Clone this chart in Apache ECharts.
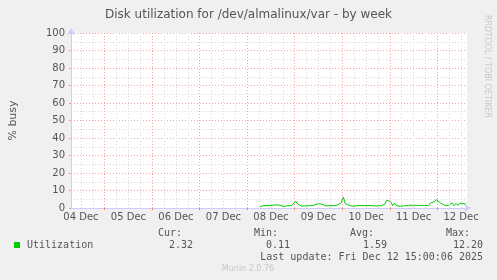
<!DOCTYPE html>
<html>
<head>
<meta charset="utf-8">
<script src="https://cdn.jsdelivr.net/npm/echarts@6/dist/echarts.min.js"></script>
<style>
html,body{margin:0;padding:0;background:#f0f0f0;}
#c{width:497px;height:280px;}
</style>
</head>
<body>
<div id="c"></div>
<script>
// x values are hours since 04 Dec 00:00
const dayLabels = ['04 Dec','05 Dec','06 Dec','07 Dec','08 Dec','09 Dec','10 Dec','11 Dec','12 Dec'];
const labelHours = [12,36,60,84,108,132,156,180,204];
const majorHours = [24,48,72,96,120,144,168,192];
const minorHours = [12,18,30,36,42,54,60,66,78,84,90,102,108,114,126,132,138,150,156,162,174,180,186,198,204];
const yTicks = [0,10,20,30,40,50,60,70,80,90,100];
const startHour = 102.5;
const stepHours = 1;
const utilization = [
 0.8,1.3,1.4,1.5,1.4,1.6,1.5,1.4,1.8,2.4,
 1.6,1.2,0.9,1.0,1.3,1.5,1.4,1.9,4.0,2.2,
 1.5,1.1,1.4,1.2,1.6,1.3,1.7,1.5,2.0,2.4,
 3.4,2.3,1.4,1.2,1.0,1.3,1.1,1.4,1.2,1.6,
 2.2,3.0,6.3,2.5,1.6,1.5,1.2,1.0,1.0,1.3,
 1.6,1.4,1.5,1.3,1.6,1.4,1.5,1.3,1.4,1.2,
 1.5,1.3,1.6,2.2,4.4,4.6,3.6,1.4,2.8,1.2,
 1.0,1.1,0.9,1.2,1.3,1.5,1.4,1.6,1.3,1.5,
 1.7,1.5,1.4,1.5,1.6,1.3,2.8,1.8,3.6,4.8,
 4.2,3.0,2.2,1.6,1.3,1.4,1.6,2.9,1.3,2.6,
 1.4,2.8,2.0,2.4,2.3
];
const legendStats = {cur:'2.32', min:'0.11', avg:'1.59', max:'12.20'};
const lastUpdate = 'Last update: Fri Dec 12 15:00:06 2025';

const points = utilization.map((v,i)=>[startHour + i*stepHours, v]);
const mono = 'DejaVu Sans Mono';
const sans = 'DejaVu Sans';

const chart = echarts.init(document.getElementById('c'), null, {renderer:'canvas'});
chart.setOption({
  backgroundColor:'#f0f0f0',
  animation:false,
  title:{text:'Disk utilization for /dev/almalinux/var - by week', left:'center', top:4,
    textStyle:{fontSize:12, fontWeight:'normal', color:'#555', fontFamily:sans}},
  grid:{left:66, right:30, top:33, bottom:72, show:true, backgroundColor:'#ffffff', borderWidth:0},
  xAxis:{type:'value', min:7, max:207,
    axisLine:{show:true, lineStyle:{color:'#ccccff', width:1}, symbol:['none','arrow'], symbolSize:[6,7], symbolOffset:[0,4]},
    axisTick:{show:true, customValues:majorHours, length:2, inside:false, lineStyle:{color:'#f77'}},
    axisLabel:{customValues:labelHours, color:'#555', fontSize:10, fontFamily:sans, margin:4,
      formatter:(v)=>{const i=labelHours.indexOf(v); return i>=0?dayLabels[i]:'';}},
    splitLine:{show:false}
  },
  yAxis:{type:'value', min:0, max:100, interval:10,
    name:'% busy', nameLocation:'middle', nameGap:52,
    nameTextStyle:{color:'#555', fontSize:11, fontFamily:sans},
    axisLine:{show:true, lineStyle:{color:'#ccccff', width:1}, symbol:['none','arrow'], symbolSize:[6,7], symbolOffset:[0,5]},
    axisTick:{show:true, length:2, lineStyle:{color:'#f99'}},
    axisLabel:{color:'#555', fontSize:10, fontFamily:sans, margin:6},
    splitLine:{show:true, lineStyle:{color:'#f4a3a3', type:[1,2], width:1}},
    minorTick:{show:false, splitNumber:2},
    minorSplitLine:{show:true, lineStyle:{color:'#d8d8d8', type:[1,2], width:1}}
  },
  series:[
    {type:'line', data:[], z:1, silent:true,
      markLine:{silent:true, symbol:'none', label:{show:false}, animation:false,
        data:[
          ...minorHours.map(h=>({xAxis:h, lineStyle:{color:'#d8d8d8', type:[1,2], width:1}})),
          ...majorHours.map(h=>({xAxis:h, lineStyle:{color:'#f4a3a3', type:[1,2], width:1}}))
        ]}
    },
    {type:'line', data:points, z:3, showSymbol:false, symbol:'none',
      lineStyle:{color:'#00cc00', width:1}}
  ],
  graphic:[
    {type:'text', left:483, top:15, rotation:-Math.PI/2, style:{text:'RRDTOOL / TOBI OETIKER', fill:'#c8c8c8', font:'8px '+sans}},
    {type:'text', x:182, y:233, style:{text:'Cur:', fill:'#555', font:'10px '+mono, align:'right', verticalAlign:'middle'}},
    {type:'text', x:278, y:233, style:{text:'Min:', fill:'#555', font:'10px '+mono, align:'right', verticalAlign:'middle'}},
    {type:'text', x:374, y:233, style:{text:'Avg:', fill:'#555', font:'10px '+mono, align:'right', verticalAlign:'middle'}},
    {type:'text', x:470, y:233, style:{text:'Max:', fill:'#555', font:'10px '+mono, align:'right', verticalAlign:'middle'}},
    {type:'rect', shape:{x:14, y:242, width:6, height:6}, style:{fill:'#00cc00'}},
    {type:'text', x:27, y:245, style:{text:'Utilization', fill:'#555', font:'10px '+mono, verticalAlign:'middle'}},
    {type:'text', x:193, y:245, style:{text:legendStats.cur, fill:'#555', font:'10px '+mono, align:'right', verticalAlign:'middle'}},
    {type:'text', x:290, y:245, style:{text:legendStats.min, fill:'#555', font:'10px '+mono, align:'right', verticalAlign:'middle'}},
    {type:'text', x:387, y:245, style:{text:legendStats.avg, fill:'#555', font:'10px '+mono, align:'right', verticalAlign:'middle'}},
    {type:'text', x:483, y:245, style:{text:legendStats.max, fill:'#555', font:'10px '+mono, align:'right', verticalAlign:'middle'}},
    {type:'text', x:483, y:257, style:{text:lastUpdate, fill:'#555', font:'10px '+mono, align:'right', verticalAlign:'middle'}},
    {type:'text', x:248, y:269, style:{text:'Munin 2.0.76', fill:'#c8c8c8', font:'8px '+sans, align:'center', verticalAlign:'middle'}}
  ]
});
</script>
</body>
</html>
